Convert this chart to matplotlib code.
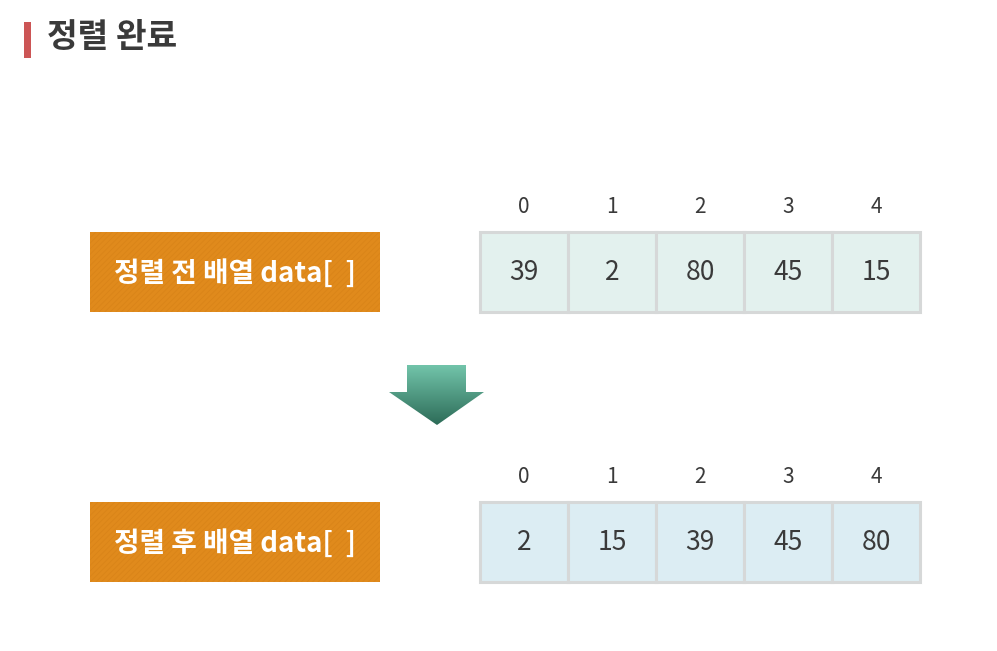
import numpy as np
import matplotlib.pyplot as plt
from matplotlib.patches import Rectangle, Polygon
from matplotlib.colors import LinearSegmentedColormap

plt.rcParams['font.family'] = ['Noto Sans CJK KR', 'DejaVu Sans']
plt.rcParams['hatch.linewidth'] = 0.5

title = '정렬 완료'
labels = ['정렬 전 배열 data[  ]', '정렬 후 배열 data[  ]']
indices = [0, 1, 2, 3, 4]
before = [39, 2, 80, 45, 15]
after = [2, 15, 39, 45, 80]
rows = [before, after]
cell_colors = ['#e3f1ee', '#dcedf3']

W, H = 997, 651
fig = plt.figure(figsize=(W / 100, H / 100), dpi=100)
ax = fig.add_axes([0, 0, 1, 1])
ax.set_xlim(0, W)
ax.set_ylim(H, 0)
ax.axis('off')

# title
ax.add_patch(Rectangle((24, 22), 7, 36, color='#cc5555', lw=0))
ax.text(47, 38, title, fontsize=24, fontweight='bold', color='#3a3a3a',
        va='center', ha='left')

row_top = [232, 502]
cell_w, cell_h = 88, 80
x0 = 480
for r, (vals, top) in enumerate(zip(rows, row_top)):
    # orange label box
    ax.add_patch(Rectangle((90, top), 290, cell_h, facecolor='#e08a1c',
                           edgecolor='#d88318', hatch='//////', lw=0))
    ax.text(235, top + cell_h / 2 + 1, labels[r], fontsize=20, fontweight='bold',
            color='white', ha='center', va='center')
    for i, v in enumerate(vals):
        cx = x0 + i * cell_w
        ax.add_patch(Rectangle((cx, top), cell_w, cell_h, facecolor=cell_colors[r],
                               edgecolor='#d6d8d8', lw=2.2))
        ax.text(cx + cell_w / 2, top + cell_h / 2 + 1, str(v), fontsize=19,
                color='#3a3a3a', ha='center', va='center')
        ax.text(cx + cell_w / 2, top - 25, str(indices[i]), fontsize=15,
                color='#3a3a3a', ha='center', va='center')

# down arrow with gradient
arrow = Polygon([(407, 365), (466, 365), (466, 392), (484, 392), (437, 425),
                 (389, 392), (407, 392)], closed=True, facecolor='none', lw=0)
ax.add_patch(arrow)
grad = np.linspace(0, 1, 100).reshape(-1, 1)
cmap = LinearSegmentedColormap.from_list('g', ['#72c4aa', '#2d6c58'])
im = ax.imshow(grad, cmap=cmap, extent=(389, 484, 425, 365), aspect='auto',
               zorder=2)
im.set_clip_path(arrow)
ax.set_xlim(0, W)
ax.set_ylim(H, 0)

fig.savefig('out.png', dpi=100)
